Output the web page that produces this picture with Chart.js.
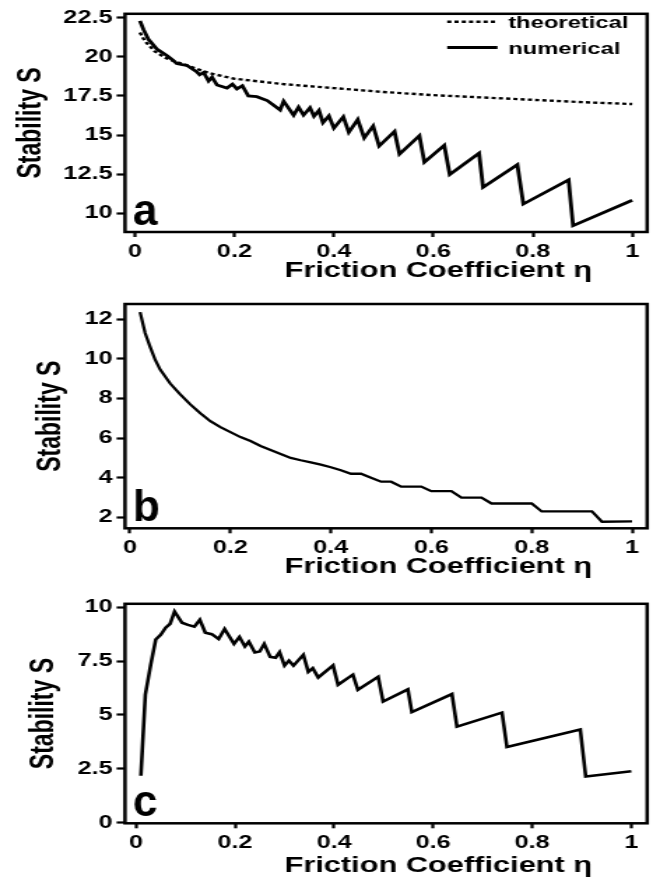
<!DOCTYPE html>
<html>
<head>
<meta charset="utf-8">
<title>Stability S vs Friction Coefficient</title>
<script src="https://cdn.jsdelivr.net/npm/chart.js@4.4.1/dist/chart.umd.min.js"></script>
<style>
  html, body { margin: 0; padding: 0; background: #fff; }
  #figure { position: relative; width: 667px; height: 880px; overflow: hidden; }
  /* the scanned figure is stretched sideways, so each panel is too */
  .panel { position: absolute; left: 0; transform: scaleX(1.3983); transform-origin: 0 0; }
</style>
</head>
<body>
<div id="figure">
  <div class="panel" style="top:0"><canvas id="chartA" width="477" height="290"></canvas></div>
  <div class="panel" style="top:290px"><canvas id="chartB" width="477" height="300"></canvas></div>
  <div class="panel" style="top:590px"><canvas id="chartC" width="477" height="290"></canvas></div>
</div>
<script>
// panel a
const etaA = [0.01, 0.017, 0.027, 0.044, 0.064, 0.077, 0.084, 0.095, 0.104, 0.124, 0.13, 0.138, 0.148, 0.155, 0.165, 0.185, 0.196, 0.205, 0.216, 0.228, 0.245, 0.266, 0.279, 0.292, 0.299, 0.319, 0.329, 0.339, 0.352, 0.36, 0.37, 0.378, 0.39, 0.4, 0.419, 0.43, 0.448, 0.461, 0.479, 0.491, 0.522, 0.532, 0.572, 0.582, 0.622, 0.633, 0.692, 0.7, 0.769, 0.781, 0.872, 0.881, 1.0];
const numericalA = [22.3, 21.75, 21.12, 20.5, 20.08, 19.77, 19.57, 19.5, 19.46, 19.05, 18.85, 19.0, 18.45, 18.7, 18.2, 18.0, 18.25, 17.95, 18.15, 17.5, 17.45, 17.2, 16.9, 16.6, 17.16, 16.27, 16.78, 16.27, 16.74, 16.2, 16.57, 15.79, 16.22, 15.44, 16.16, 15.17, 15.99, 14.82, 15.58, 14.3, 15.23, 13.78, 14.96, 13.27, 14.34, 12.48, 13.84, 11.66, 13.1, 10.59, 12.13, 9.2, 10.83];
const etaTheory = [0.01, 0.02, 0.04, 0.06, 0.08, 0.1, 0.15, 0.2, 0.3, 0.4, 0.5, 0.6, 0.7, 0.8, 0.9, 1.0];
const theoretical = [21.55, 21.0, 20.35, 19.95, 19.7, 19.5, 18.95, 18.6, 18.25, 18.0, 17.75, 17.55, 17.4, 17.25, 17.1, 16.98];

// panel b
const etaB = [0.02, 0.03, 0.04, 0.05, 0.06, 0.08, 0.10, 0.12, 0.14, 0.16, 0.18, 0.20, 0.22, 0.24, 0.26, 0.28, 0.30, 0.32, 0.34, 0.36, 0.38, 0.40, 0.42, 0.44, 0.46, 0.48, 0.50, 0.52, 0.54, 0.58, 0.60, 0.64, 0.66, 0.70, 0.72, 0.80, 0.82, 0.92, 0.94, 1.0];
const stabilityB = [12.35, 11.3, 10.6, 9.95, 9.45, 8.75, 8.2, 7.7, 7.25, 6.85, 6.55, 6.3, 6.05, 5.85, 5.6, 5.4, 5.2, 5.0, 4.88, 4.77, 4.66, 4.53, 4.38, 4.2, 4.2, 4.0, 3.8, 3.8, 3.55, 3.55, 3.32, 3.32, 3.0, 3.0, 2.7, 2.7, 2.3, 2.3, 1.78, 1.8];

// panel c
const etaC = [0.01, 0.019, 0.03, 0.04, 0.05, 0.06, 0.069, 0.078, 0.093, 0.105, 0.118, 0.129, 0.14, 0.153, 0.167, 0.179, 0.198, 0.209, 0.22, 0.228, 0.24, 0.25, 0.259, 0.271, 0.282, 0.29, 0.3, 0.309, 0.318, 0.338, 0.348, 0.357, 0.368, 0.398, 0.408, 0.438, 0.448, 0.489, 0.499, 0.549, 0.557, 0.638, 0.648, 0.739, 0.749, 0.897, 0.908, 1.0];
const stabilityC = [2.18, 5.95, 7.35, 8.5, 8.72, 9.05, 9.23, 9.8, 9.28, 9.18, 9.1, 9.42, 8.82, 8.75, 8.53, 8.99, 8.3, 8.62, 8.18, 8.4, 7.9, 7.95, 8.3, 7.7, 7.66, 7.92, 7.29, 7.52, 7.29, 7.79, 7.0, 7.17, 6.74, 7.3, 6.4, 6.87, 6.17, 6.77, 5.62, 6.19, 5.13, 5.97, 4.46, 5.11, 3.51, 4.32, 2.14, 2.39];

// tick values
const xTicks = [0, 0.2, 0.4, 0.6, 0.8, 1];
const yTicksA = [10, 12.5, 15, 17.5, 20, 22.5];
const yTicksB = [2, 4, 6, 8, 10, 12];
const yTicksC = [0, 2.5, 5, 7.5, 10];

const SANS = '"Liberation Sans", Arial, sans-serif';
Chart.defaults.font.family = SANS;
Chart.defaults.color = "#000";

const toPoints = (xs, ys) => xs.map((x, i) => ({ x: x, y: ys[i] }));

// frame, panel letter, x title and (for a) the legend
const panelDecor = {
  id: "panelDecor",
  afterDatasetsDraw(chart, args, opts) {
    const { ctx, chartArea } = chart;
    const { left, right, top, bottom } = chartArea;
    ctx.save();
    ctx.strokeStyle = "#000";
    ctx.lineWidth = 2.5;
    ctx.strokeRect(left, top, right - left, bottom - top);

    ctx.fillStyle = "#000";
    ctx.textBaseline = "alphabetic";

    // the panel letters are narrower than the rest of the lettering
    ctx.save();
    ctx.translate(left + 5.5, bottom - 7);
    ctx.scale(0.72, 1);
    ctx.font = "bold 44px " + SANS;
    ctx.fillText(opts.letter, 0, 0);
    ctx.restore();

    ctx.font = "bold 22px " + SANS;
    ctx.textAlign = "center";
    ctx.fillText("Friction Coefficient \u03B7", left + 0.6 * (right - left), bottom + opts.titleGap);

    if (opts.legend) {
      ctx.textAlign = "left";
      ctx.font = "bold 17px " + SANS;
      chart.data.datasets.forEach((ds, i) => {
        const y = top + 8 + i * 25.7;
        ctx.beginPath();
        ctx.lineWidth = ds.borderWidth;
        ctx.setLineDash(ds.borderDash || []);
        ctx.moveTo(right - 143, y);
        ctx.lineTo(right - 107, y);
        ctx.stroke();
        ctx.setLineDash([]);
        ctx.fillText(ds.label, right - 99.4, y + 6);
      });
    }
    ctx.restore();
  }
};

function makePanel(id, datasets, p) {
  return new Chart(document.getElementById(id), {
    type: "line",
    data: { datasets: datasets },
    plugins: [panelDecor],
    options: {
      responsive: false,
      animation: false,
      layout: { padding: { top: p.top, right: 14.2, bottom: 0, left: 0 } },
      elements: { point: { radius: 0 }, line: { tension: 0, borderCapStyle: "butt" } },
      plugins: {
        legend: { display: false },
        tooltip: { enabled: false },
        panelDecor: { letter: p.letter, titleGap: p.titleGap, legend: p.legend }
      },
      scales: {
        x: {
          type: "linear",
          min: p.xMin,
          max: p.xMax,
          afterFit: (scale) => { scale.height = p.xHeight; },
          afterBuildTicks: (scale) => { scale.ticks = xTicks.map((v) => ({ value: v })); },
          border: { display: false },
          grid: { drawOnChartArea: false, tickLength: 5, tickWidth: 2.2, tickColor: "#000" },
          ticks: { padding: 4, maxRotation: 0, font: { size: 18, weight: "bold" }, callback: (v) => String(v) }
        },
        y: {
          min: p.yMin,
          max: p.yMax,
          afterFit: (scale) => { scale.width = 89.4; },
          afterBuildTicks: (scale) => { scale.ticks = p.yTicks.map((v) => ({ value: v })); },
          border: { display: false },
          grid: { drawOnChartArea: false, tickLength: 6, tickWidth: 2.2, tickColor: "#000" },
          ticks: { padding: 3, font: { size: 18, weight: "bold" }, callback: (v) => String(v) },
          title: {
            display: true,
            text: "Stability S",
            font: { size: 23, weight: "bold" },
            padding: { top: p.yTitlePad, bottom: 0 }
          }
        }
      }
    }
  });
}

makePanel("chartA", [
  { label: "theoretical", data: toPoints(etaTheory, theoretical), borderColor: "#000", borderWidth: 2.4, borderDash: [3, 2.2] },
  { label: "numerical", data: toPoints(etaA, numericalA), borderColor: "#000", borderWidth: 2.8 }
], { letter: "a", legend: true, top: 7, xHeight: 58, titleGap: 45, yTitlePad: 8.4,
     xMin: -0.02, xMax: 1.03, yMin: 8.8, yMax: 22.75, yTicks: yTicksA });

makePanel("chartB", [
  { label: "numerical", data: toPoints(etaB, stabilityB), borderColor: "#000", borderWidth: 2.3 }
], { letter: "b", legend: false, top: 14, xHeight: 61.7, titleGap: 45, yTitlePad: 22.7,
     xMin: -0.01, xMax: 1.03, yMin: 1.45, yMax: 12.76, yTicks: yTicksB });

makePanel("chartC", [
  { label: "numerical", data: toPoints(etaC, stabilityC), borderColor: "#000", borderWidth: 2.6 }
], { letter: "c", legend: false, top: 12.3, xHeight: 56.7, titleGap: 49, yTitlePad: 18,
     xMin: -0.022, xMax: 1.032, yMin: -0.03, yMax: 10.16, yTicks: yTicksC });
</script>
</body>
</html>
